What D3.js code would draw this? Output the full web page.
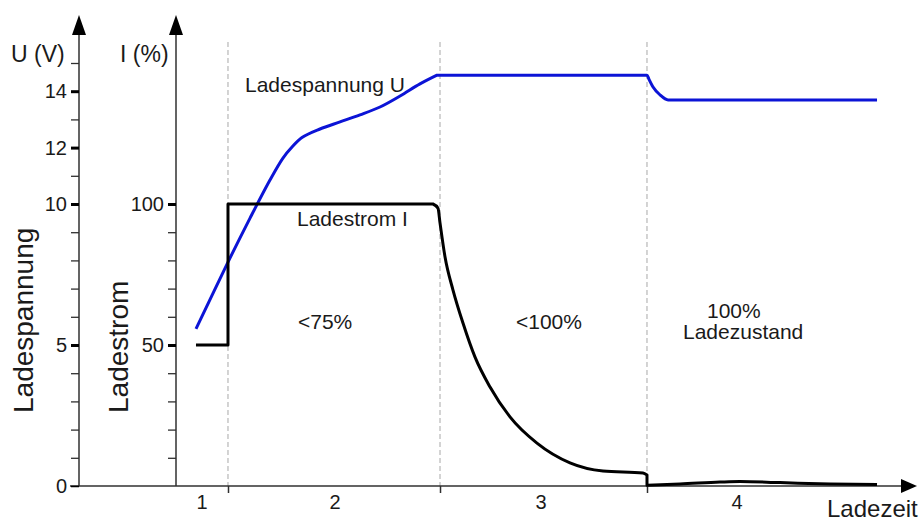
<!DOCTYPE html>
<html><head><meta charset="utf-8">
<script src="https://cdn.jsdelivr.net/npm/d3@7"></script>
<style>
body{margin:0;background:#fff;}
text{font-family:"Liberation Sans",Arial,sans-serif;fill:#1a1a1a;}
</style></head>
<body><svg id="c" width="923" height="523"></svg>
<script>
// ---- data ----
const phaseLabels = ["1","2","3","4"];
const phaseLabelT = [14.68, 30.55, 55.13, 78.52];
const phaseBounds = [17.78, 43.08, 67.78];

const uMajor = [0,5,10,12,14];
const uMinor = [1,2,3,4,6,7,8,9,11,13,15];
const iMajor = [50,100];
const iMinor = [10,20,30,40,60,70,80,90];

// Ladespannung U: rising part, then flat + drop
const uRiseTime = [13.96,17.78,20.41,22.79,24.34,25.42,26.61,28.76,31.15,33.53,35.92,38.31,40.69,42.72];
const uRiseVal  = [5.57,7.94,9.50,10.85,11.63,12.02,12.36,12.66,12.91,13.16,13.44,13.83,14.26,14.57];
const uHoldTime = [42.72,67.78,68.02,68.50,69.33,70.29,71.36,95.23];
const uHoldVal  = [14.57,14.57,14.42,14.15,13.87,13.69,13.69,13.69];

// Ladestrom I
const iStepTime = [13.96,17.78,17.78,42.24];
const iStepVal  = [50,50,100,100];
const iDecayTime = [42.24,42.84,43.08,43.68,44.63,45.82,47.26,49.05,51.43,54.65,58.59,62.53,67.30,67.78];
const iDecayVal  = [100,98.5,93.3,81.2,69.5,57.8,45.7,35.1,24.5,15.2,8.2,5.3,4.6,3.9];
const iTailTime = [67.78,71.72,76.49,78.88,83.65,89.62,95.23];
const iTailVal  = [0.3,0.7,1.4,1.6,1.2,0.7,0.5];

// ---- scales ----
const svg = d3.select("#c");
const x = d3.scaleLinear().domain([0,100]).range([79,917]);
const yU = d3.scaleLinear().domain([0,10]).range([486,204]);
const yI = d3.scaleLinear().domain([0,100]).range([486,204]);
const xU = x(0), xI = 176, y0 = yU(0);

// dashed phase separators
svg.selectAll("line.sep").data(phaseBounds).join("line")
  .attr("x1",d=>x(d)).attr("x2",d=>x(d)).attr("y1",42).attr("y2",y0)
  .attr("stroke","#a8a8a8").attr("stroke-width",1).attr("stroke-dasharray","5,3");

// axes lines
const axisCol = "#303030";
svg.append("line").attr("x1",xU).attr("x2",xU).attr("y1",y0).attr("y2",30).attr("stroke",axisCol).attr("stroke-width",1.5);
svg.append("line").attr("x1",xI).attr("x2",xI).attr("y1",y0).attr("y2",30).attr("stroke",axisCol).attr("stroke-width",1.5);
svg.append("line").attr("x1",xU-9).attr("x2",x(100)-10).attr("y1",y0).attr("y2",y0).attr("stroke",axisCol).attr("stroke-width",1.5);
// arrowheads
svg.append("path").attr("d",`M${xU},15L${xU-7},35L${xU+7},35Z`).attr("fill","#000");
svg.append("path").attr("d",`M${xI},15L${xI-7},35L${xI+7},35Z`).attr("fill","#000");
svg.append("path").attr("d",`M${x(100)},${y0}L${x(100)-16},${y0-7}L${x(100)-16},${y0+7}Z`).attr("fill","#000");

// U axis ticks
const gU = svg.append("g").attr("transform",`translate(${xU},0)`);
gU.call(d3.axisLeft(yU).tickValues(uMinor).tickSize(8).tickFormat(""))
  .call(g=>g.select(".domain").remove())
  .call(g=>g.selectAll("line").attr("stroke",axisCol).attr("stroke-width",1.3));
const gU2 = svg.append("g").attr("transform",`translate(${xU},0)`);
gU2.call(d3.axisLeft(yU).tickValues(uMajor).tickSize(8).tickPadding(4).tickFormat(d3.format("d")))
  .call(g=>g.select(".domain").remove())
  .call(g=>g.selectAll("line").attr("stroke","#000").attr("stroke-width",d=>d===0?1.5:3))
  .call(g=>g.selectAll("text").style("font-size","20px").attr("fill","#1a1a1a").style("font-family","Liberation Sans, Arial, sans-serif"));

// I axis ticks
const gI = svg.append("g").attr("transform",`translate(${xI},0)`);
gI.call(d3.axisLeft(yI).tickValues(iMinor).tickSize(8).tickFormat(""))
  .call(g=>g.select(".domain").remove())
  .call(g=>g.selectAll("line").attr("stroke",axisCol).attr("stroke-width",1.3));
const gI2 = svg.append("g").attr("transform",`translate(${xI},0)`);
gI2.call(d3.axisLeft(yI).tickValues(iMajor).tickSize(8).tickPadding(4).tickFormat(d3.format("d")))
  .call(g=>g.select(".domain").remove())
  .call(g=>g.selectAll("line").attr("stroke","#000").attr("stroke-width",3))
  .call(g=>g.selectAll("text").style("font-size","20px").attr("fill","#1a1a1a").style("font-family","Liberation Sans, Arial, sans-serif"));

// X axis ticks at phase bounds + labels
const gX = svg.append("g").attr("transform",`translate(0,${y0})`);
gX.call(d3.axisBottom(x).tickValues(phaseBounds).tickSize(7).tickFormat(""))
  .call(g=>g.select(".domain").remove())
  .call(g=>g.selectAll("line").attr("stroke",axisCol).attr("stroke-width",1.5));
svg.selectAll("text.ph").data(phaseLabels).join("text")
  .attr("x",(d,i)=>x(phaseLabelT[i])).attr("y",509).attr("text-anchor","middle")
  .style("font-size","20px").text(d=>d);

// curves
const lineMono = d3.line().x(d=>x(d[0])).curve(d3.curveMonotoneX);
const lineCR = d3.line().x(d=>x(d[0])).curve(d3.curveCatmullRom.alpha(0.5));
const lineLin = d3.line().x(d=>x(d[0])).curve(d3.curveLinear);

const uSeg1 = lineCR.y(d=>yU(d[1]))(uRiseTime.map((t,i)=>[t,uRiseVal[i]]));
const uSeg2 = lineMono.y(d=>yU(d[1]))(uHoldTime.map((t,i)=>[t,uHoldVal[i]]));
svg.append("path").attr("d",uSeg1 + uSeg2.replace(/^M/,"L"))
  .attr("fill","none").attr("stroke","#0c14d6").attr("stroke-width",3).attr("stroke-linejoin","round");

const seg1 = lineLin.y(d=>yI(d[1]))(iStepTime.map((t,i)=>[t,iStepVal[i]]));
const seg2 = lineMono.y(d=>yI(d[1]))(iDecayTime.map((t,i)=>[t,iDecayVal[i]]));
const seg3 = lineMono.y(d=>yI(d[1]))(iTailTime.map((t,i)=>[t,iTailVal[i]]));
svg.append("path").attr("d",seg1 + seg2.replace(/^M/,"L") + seg3.replace(/^M/,"L"))
  .attr("fill","none").attr("stroke","#000").attr("stroke-width",3).attr("stroke-linejoin","round");

// labels
const T = (txt,xx,yy,size,anchor)=>svg.append("text").attr("x",xx).attr("y",yy)
  .attr("text-anchor",anchor||"start").style("font-size",size+"px").text(txt);
T("U (V)",11,62,23);
T("I (%)",120,62,23);
T("Ladezeit",827,517,24);
T("Ladespannung U",245,92,21);
T("Ladestrom I",297,226,21);
T("<75%",298,329,21);
T("<100%",516,329,21);
T("100%",707,318,21);
T("Ladezustand",683,339,21);
svg.append("text").attr("transform","translate(33,413) rotate(-90)").style("font-size","28px").text("Ladespannung");
svg.append("text").attr("transform","translate(128,413) rotate(-90)").style("font-size","28px").text("Ladestrom");
</script></body></html>
